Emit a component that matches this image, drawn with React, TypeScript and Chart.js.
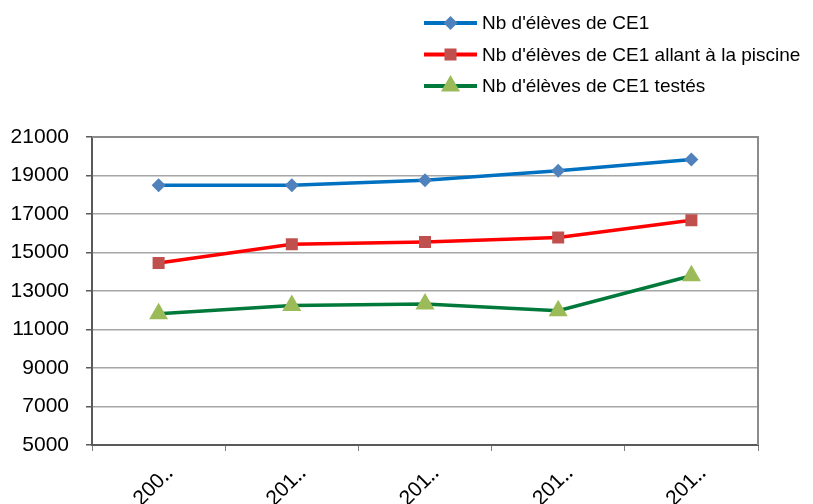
import React, { useEffect, useRef } from 'react';
import { Chart, registerables } from 'chart.js';

Chart.register(...registerables);

const categories = ['200‥', '201‥', '201‥', '201‥', '201‥'];
const seriesNames = [
  "Nb d'élèves de CE1",
  "Nb d'élèves de CE1 allant à la piscine",
  "Nb d'élèves de CE1 testés",
];
const elevesCE1 = [18500, 18500, 18750, 19250, 19830];
const elevesPiscine = [14450, 15430, 15550, 15780, 16680];
const elevesTestes = [11820, 12250, 12330, 11980, 13790];
const yMin = 5000;
const yMax = 21000;
const yStep = 2000;

const FONT = "'Liberation Sans', Arial, sans-serif";

function drawMarker(ctx: CanvasRenderingContext2D, style: string, r: number, x: number, y: number) {
  ctx.beginPath();
  if (style === 'rectRot') {
    ctx.moveTo(x, y - r);
    ctx.lineTo(x + r, y);
    ctx.lineTo(x, y + r);
    ctx.lineTo(x - r, y);
  } else if (style === 'rect') {
    const s = r * Math.SQRT1_2;
    ctx.rect(x - s, y - s, 2 * s, 2 * s);
  } else {
    const h = (r * Math.sqrt(3)) / 2;
    ctx.moveTo(x, y - r);
    ctx.lineTo(x + h, y + r / 2);
    ctx.lineTo(x - h, y + r / 2);
  }
  ctx.closePath();
  ctx.fill();
}

const legendPlugin = {
  id: 'lineLegend',
  afterDraw(chart: any) {
    const ctx: CanvasRenderingContext2D = chart.ctx;
    chart.data.datasets.forEach((ds: any, i: number) => {
      const y = 23 + i * 31.5;
      ctx.save();
      ctx.strokeStyle = ds.borderColor;
      ctx.lineWidth = 4;
      ctx.beginPath();
      ctx.moveTo(424, y);
      ctx.lineTo(477, y);
      ctx.stroke();
      ctx.fillStyle = ds.pointBackgroundColor;
      drawMarker(ctx, ds.pointStyle, ds.pointRadius, 450.5, y);
      ctx.fillStyle = '#000';
      ctx.font = `19px ${FONT}`;
      ctx.textBaseline = 'middle';
      ctx.textAlign = 'left';
      ctx.fillText(ds.label, 482, y + 1);
      ctx.restore();
    });
  },
};

const framePlugin = {
  id: 'frame',
  beforeDatasetsDraw(chart: any) {
    const { ctx, chartArea } = chart;
    ctx.save();
    ctx.strokeStyle = '#8c8c8c';
    ctx.lineWidth = 2;
    ctx.beginPath();
    ctx.moveTo(chartArea.left, chartArea.top);
    ctx.lineTo(chartArea.right, chartArea.top);
    ctx.lineTo(chartArea.right, chartArea.bottom);
    ctx.stroke();
    ctx.restore();
  },
};

export default function App() {
  const ref = useRef<HTMLCanvasElement>(null);
  useEffect(() => {
    if (!ref.current) return;
    const mk = (label: string, data: number[], line: string, fill: string, style: string, r: number) => ({
      label,
      data,
      borderColor: line,
      backgroundColor: fill,
      borderWidth: 3.5,
      pointStyle: style,
      pointRadius: r,
      pointHoverRadius: r,
      pointBackgroundColor: fill,
      pointBorderColor: fill,
      pointBorderWidth: 0,
      tension: 0,
      fill: false,
    });
    const chart = new Chart(ref.current, {
      type: 'line',
      data: {
        labels: categories,
        datasets: [
          mk(seriesNames[0], elevesCE1, '#0070C0', '#4F81BD', 'rectRot', 7),
          mk(seriesNames[1], elevesPiscine, '#FF0000', '#C0504D', 'rect', 8.5),
          mk(seriesNames[2], elevesTestes, '#00793A', '#9BBB59', 'triangle', 11),
        ] as any,
      },
      options: {
        responsive: false,
        animation: false,
        devicePixelRatio: 1,
        layout: { padding: { top: 137, right: 55, left: 0, bottom: 0 } },
        plugins: {
          legend: { display: false },
          tooltip: { enabled: false },
          title: { display: false },
        },
        scales: {
          x: {
            offset: true,
            grid: {
              display: true,
              offset: true,
              drawOnChartArea: false,
              drawTicks: true,
              tickLength: 6,
              color: '#7f7f7f',
            },
            border: { display: true, color: '#5a5a5a', width: 2 },
            ticks: {
              autoSkip: false,
              maxRotation: 45,
              minRotation: 45,
              padding: 10,
              labelOffset: 11,
              color: '#000',
              font: { family: FONT, size: 21 },
            },
            afterFit: (s: any) => {
              s.height = 59;
            },
          },
          y: {
            min: yMin,
            max: yMax,
            ticks: {
              stepSize: yStep,
              padding: 17,
              color: '#000',
              font: { family: FONT, size: 21 },
              callback: (v: any) => String(v),
            },
            grid: {
              color: '#a6a6a6',
              lineWidth: 1.5,
              drawTicks: true,
              tickLength: 6,
              tickColor: '#5a5a5a',
            },
            border: { display: true, color: '#5a5a5a', width: 2 },
            afterFit: (s: any) => {
              s.width = 92;
            },
          },
        },
      },
      plugins: [framePlugin, legendPlugin],
    });
    return () => chart.destroy();
  }, []);
  return (
    <div style={{ position: 'fixed', left: 0, top: 0, width: 813, height: 504, background: '#fff' }}>
      <canvas ref={ref} width={813} height={504} style={{ display: 'block' }} />
    </div>
  );
}
